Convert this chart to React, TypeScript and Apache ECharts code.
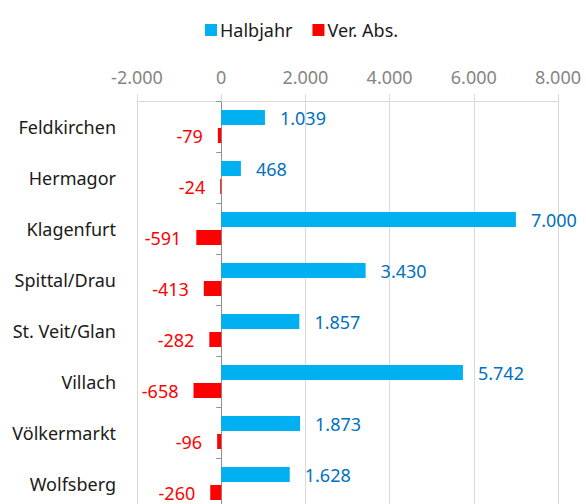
import React, { useEffect, useRef } from "react";
import * as echarts from "echarts";

const categories = ["Feldkirchen", "Hermagor", "Klagenfurt", "Spittal/Drau", "St. Veit/Glan", "Villach", "Völkermarkt", "Wolfsberg"];
const halbjahr = [1039, 468, 7000, 3430, 1857, 5742, 1873, 1628];
const verAbs = [-79, -24, -591, -413, -282, -658, -96, -260];
const xMin = -2000;
const xMax = 8000;
const xStep = 2000;

const FONT = "Noto Sans";

function fmt(v: number): string {
  const s = Math.abs(Math.round(v)).toString().replace(/\B(?=(\d{3})+(?!\d))/g, ".");
  return (v < 0 ? "-" : "") + s;
}

export default function App() {
  const ref = useRef<HTMLDivElement>(null);
  useEffect(() => {
    const chart = echarts.init(ref.current!, null, { renderer: "svg" });
    chart.setOption({
      animation: false,
      textStyle: { fontFamily: FONT },
      legend: {
        left: 200,
        top: 16,
        itemWidth: 12,
        itemHeight: 12,
        itemGap: 20,
        icon: "rect",
        textStyle: { fontFamily: FONT, fontSize: 18, color: "#1a1a1a", padding: [0, 0, 0, -2] },
        data: ["Halbjahr", "Ver. Abs."],
      },
      grid: { left: 137, right: 28, top: 101, height: 408, containLabel: false, outerBoundsMode: "none" },
      xAxis: {
        type: "value",
        position: "top",
        min: xMin,
        max: xMax,
        interval: xStep,
        axisLine: { show: true, lineStyle: { color: "#d9d9d9" } },
        axisTick: { show: true, length: 7, lineStyle: { color: "#d9d9d9" } },
        splitLine: { show: true, lineStyle: { color: "#d9d9d9" } },
        axisLabel: { fontFamily: FONT, fontSize: 18, color: "#858585", margin: 15, formatter: (v: number) => fmt(v) },
      },
      yAxis: [
        {
          type: "category",
          inverse: true,
          position: "left",
          data: categories,
          axisLine: { show: false, onZero: false },
          axisTick: { show: false },
          axisLabel: { fontFamily: FONT, fontSize: 18, color: "#1a1a1a", margin: 21 },
        },
        {
          type: "category",
          inverse: true,
          position: "left",
          data: categories,
          axisLine: { show: true, onZero: true, lineStyle: { color: "#909090" } },
          axisTick: { show: true, length: 5, lineStyle: { color: "#909090" } },
          axisLabel: { show: false },
        },
      ],
      series: [
        {
          name: "Halbjahr",
          type: "bar",
          yAxisIndex: 0,
          data: halbjahr,
          barWidth: 15,
          barGap: "20%",
          itemStyle: { color: "#00B0F0" },
          label: {
            show: true,
            position: "right",
            distance: 15,
            fontFamily: FONT,
            fontSize: 18,
            color: "#0070C0",
            formatter: (p: any) => fmt(p.value),
          },
        },
        {
          name: "Ver. Abs.",
          type: "bar",
          yAxisIndex: 0,
          data: verAbs,
          barWidth: 15,
          barGap: "20%",
          itemStyle: { color: "#FF0000" },
          label: {
            show: true,
            position: "left",
            distance: 15,
            fontFamily: FONT,
            fontSize: 18,
            color: "#FF0000",
            formatter: (p: any) => fmt(p.value),
          },
        },
      ],
    });
    return () => chart.dispose();
  }, []);
  return <div ref={ref} style={{ width: 586, height: 504, position: "absolute", left: 0, top: 0 }} />;
}
